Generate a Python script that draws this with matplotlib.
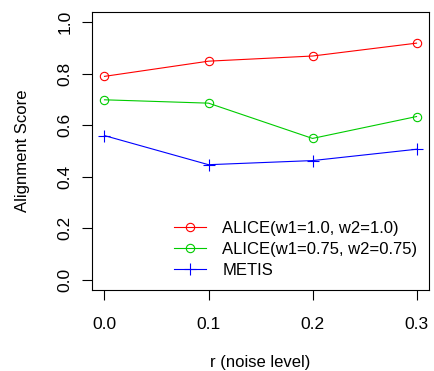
import matplotlib
matplotlib.use('Agg')
import matplotlib.pyplot as plt

# noise levels and scores
noise = [0.0, 0.1, 0.2, 0.3]
alice_1 = [0.790, 0.849, 0.869, 0.919]
alice_075 = [0.699, 0.686, 0.549, 0.634]
metis = [0.560, 0.447, 0.463, 0.507]

labels = ['ALICE(w1=1.0, w2=1.0)', 'ALICE(w1=0.75, w2=0.75)', 'METIS']
colors = ['#FF0000', '#00CC00', '#0000FF']
markers = ['o', 'o', '+']
x_ticks = [0.0, 0.1, 0.2, 0.3]
y_ticks = [0.0, 0.2, 0.4, 0.6, 0.8, 1.0]

plt.rcParams['font.family'] = ['Liberation Sans', 'DejaVu Sans']

fig = plt.figure(figsize=(4.34, 3.71), dpi=100)
ax = fig.add_axes([0.212, 0.218, 0.7765, 0.7497])

for ys, lab, c, m in zip([alice_1, alice_075, metis], labels, colors, markers):
    ms = 6 if m == 'o' else 8
    ax.plot(noise, ys, color=c, lw=0.8, marker=m, ms=ms, mfc='none',
            mec=c, mew=0.8, label=lab)

ax.set_xlim(-0.012, 0.312)
ax.set_ylim(-0.04, 1.04)
ax.set_xticks(x_ticks)
ax.set_xticklabels(['%.1f' % v for v in x_ticks])
ax.set_yticks(y_ticks)
ax.set_yticklabels(['%.1f' % v for v in y_ticks], rotation=90, va='center')
ax.tick_params(axis='both', length=7, width=0.8, labelsize=12.5)
ax.tick_params(axis='x', pad=12)
ax.tick_params(axis='y', pad=7)
for s in ax.spines.values():
    s.set_linewidth(0.8)

ax.set_xlabel('r (noise level)', fontsize=12, labelpad=17)
ax.set_ylabel('Alignment Score', fontsize=12, labelpad=20)

ax.legend(loc='lower left', frameon=False, fontsize=12, handlelength=1.9,
          handletextpad=1.0, labelspacing=0.35, borderpad=0, borderaxespad=0,
          bbox_to_anchor=(0.243, 0.045))

fig.savefig('out.png', dpi=100)
